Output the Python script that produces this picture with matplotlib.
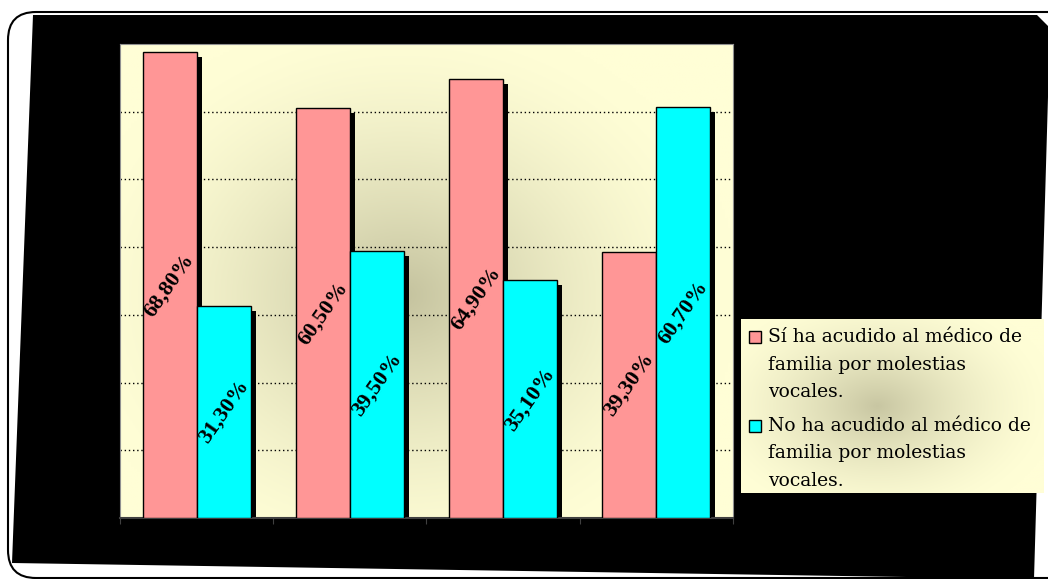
import matplotlib.pyplot as plt
import numpy as np
from matplotlib.patches import Polygon, FancyBboxPatch, Rectangle
from matplotlib.transforms import offset_copy

# data
groups = ['G1', 'G2', 'G3', 'G4']
si_vals = [68.8, 60.5, 64.9, 39.3]
no_vals = [31.3, 39.5, 35.1, 60.7]
si_labels = ['68,80%', '60,50%', '64,90%', '39,30%']
no_labels = ['31,30%', '39,50%', '35,10%', '60,70%']
legend_labels = [['Sí ha acudido al médico de', 'familia por molestias', 'vocales.'],
                 ['No ha acudido al médico de', 'familia por molestias', 'vocales.']]

pink = '#FF9696'
cyan = '#00FFFF'

W, H = 1048, 579
fig = plt.figure(figsize=(W / 100, H / 100), dpi=100)

# background layer in pixel coords
bg = fig.add_axes([0, 0, 1, 1])
bg.set_xlim(0, W)
bg.set_ylim(H, 0)
bg.axis('off')
frame = FancyBboxPatch((8, 12), 1080, 566, boxstyle='round,pad=0,rounding_size=28',
                       facecolor='white', edgecolor='black', linewidth=1.5)
bg.add_patch(frame)
shadow = Polygon([(33, 15), (1037, 15), (1050, 28), (1034, 579), (12, 563)],
                 closed=True, facecolor='black', edgecolor='none')
bg.add_patch(shadow)


def radial_bg(ax, cx, cy, sx, sy, inner, outer):
    yy, xx = np.mgrid[0:1:200j, 0:1:200j]
    d = np.sqrt(((xx - cx) / sx) ** 2 + ((yy - cy) / sy) ** 2)
    t = np.clip(1 - d, 0, 1) ** 1.6
    inner = np.array(inner) / 255
    outer = np.array(outer) / 255
    img = outer[None, None, :] * (1 - t[..., None]) + inner[None, None, :] * t[..., None]
    ax.imshow(img, extent=[0, 1, 0, 1], origin='lower', transform=ax.transAxes,
              aspect='auto', zorder=0)


# main plot area
ax = fig.add_axes([120 / W, (H - 518) / H, 613 / W, 474 / H])
radial_bg(ax, 0.46, 0.47, 0.55, 0.6, (196, 194, 158), (255, 254, 214))
x = np.arange(len(groups))
bw = 0.353
shadow_tr = offset_copy(ax.transData, fig=fig, x=5, y=-5, units='dots')
ax.bar(x - bw / 2, si_vals, bw, color='black', transform=shadow_tr, zorder=2)
ax.bar(x + bw / 2, no_vals, bw, color='black', transform=shadow_tr, zorder=2)
ax.bar(x - bw / 2, si_vals, bw, color=pink, edgecolor='black', linewidth=1, zorder=3)
ax.bar(x + bw / 2, no_vals, bw, color=cyan, edgecolor='black', linewidth=1, zorder=3)

for i in range(len(groups)):
    for xc, v, lab in [(x[i] - bw / 2, si_vals[i], si_labels[i]),
                       (x[i] + bw / 2, no_vals[i], no_labels[i])]:
        ax.text(xc, v / 2, lab, rotation=55, rotation_mode='anchor',
                ha='center', va='center', fontsize=16,
                fontweight='bold', family='Liberation Serif', zorder=4)

ax.set_xlim(-0.5, len(groups) - 0.5)
ax.set_ylim(0, 70)
ax.set_yticks(np.arange(10, 70, 10))
ax.yaxis.grid(True, linestyle=(0, (1, 2)), color='black', linewidth=1)
ax.set_axisbelow(True)
ax.tick_params(axis='y', length=0, labelleft=False)
ax.set_xticks(np.arange(-0.5, len(groups), 1))
ax.tick_params(axis='x', length=4, direction='out', labelbottom=False, color='#404040')
for s in ['left', 'top', 'right']:
    ax.spines[s].set_color('#909090')
ax.spines['bottom'].set_color('#404040')
ax.spines['bottom'].set_linewidth(1.5)

# legend
lg = fig.add_axes([741 / W, (H - 493) / H, 302 / W, 174 / H])
radial_bg(lg, 0.45, 0.5, 0.6, 0.7, (200, 198, 162), (255, 254, 214))
lg.set_xlim(0, 302)
lg.set_ylim(174, 0)
lg.axis('off')
for k, (lines, col) in enumerate(zip(legend_labels, [pink, cyan])):
    y0 = 18 + k * 89
    lg.add_patch(Rectangle((8, y0 - 6), 12, 12, facecolor=col, edgecolor='black',
                           linewidth=1, zorder=3))
    for j, line in enumerate(lines):
        lg.text(27, y0 + j * 27.5, line, ha='left', va='center', fontsize=13.5,
                family='DejaVu Serif', zorder=3)

fig.savefig('out.png', dpi=100)
